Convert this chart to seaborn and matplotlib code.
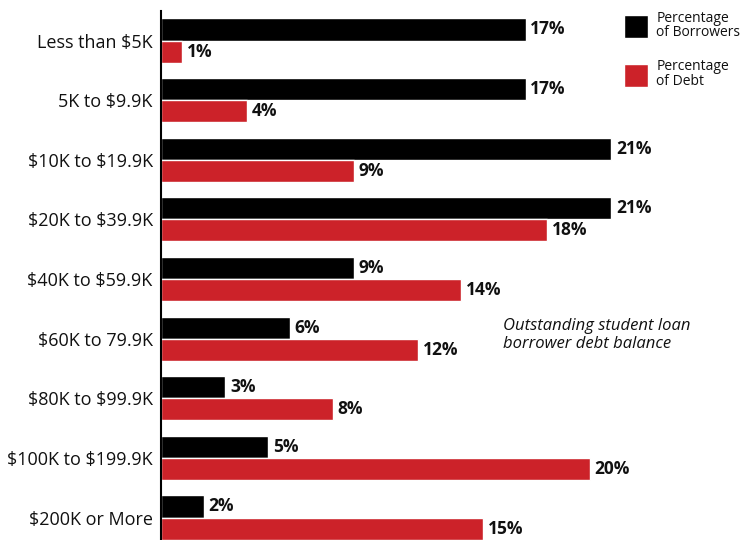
import matplotlib
matplotlib.use("Agg")
import matplotlib.pyplot as plt
import seaborn as sns
import pandas as pd
from matplotlib.patches import Patch

categories = ["Less than $5K", "5K to $9.9K", "$10K to $19.9K", "$20K to $39.9K",
              "$40K to $59.9K", "$60K to 79.9K", "$80K to $99.9K",
              "$100K to $199.9K", "$200K or More"]
borrowers = [17, 17, 21, 21, 9, 6, 3, 5, 2]
debt = [1, 4, 9, 18, 14, 12, 8, 20, 15]
series_names = ["Percentage\nof Borrowers", "Percentage\nof Debt"]
colors = ["#000000", "#CC2229"]

df = pd.DataFrame({
    "category": categories * 2,
    "value": borrowers + debt,
    "series": [series_names[0]] * len(categories) + [series_names[1]] * len(categories),
})

sns.set_theme(style="white")
plt.rcParams["font.family"] = ["Open Sans", "DejaVu Sans"]
plt.rcParams["text.parse_math"] = False

fig = plt.figure(figsize=(7.42, 5.40), dpi=100)
W, H = 742, 540
ax = fig.add_axes([161 / W, 0, (740 - 161) / W, (540 - 11) / H])

sns.barplot(data=df, y="category", x="value", hue="series", orient="h",
            palette=colors, width=0.74, dodge=True, ax=ax, legend=False,
            order=categories, hue_order=series_names, saturation=1)

for c in ax.containers:
    ax.bar_label(c, labels=[f"{v:g}%" for v in c.datavalues], padding=3.5,
                 fontsize=12.5, fontweight="bold", color="#111111")

ax.set_xlim(0, 27)
ax.set_ylim(8.377, -0.495)
ax.set_xlabel("")
ax.set_ylabel("")
ax.set_xticks([])
for s in ["top", "right", "bottom"]:
    ax.spines[s].set_visible(False)
ax.spines["left"].set_color("black")
ax.spines["left"].set_linewidth(1.5)
ax.tick_params(axis="y", direction="in", length=10, width=1.5, color="#777777",
               pad=6, labelsize=13, labelcolor="#111111", left=True)

handles = [Patch(facecolor=colors[0]), Patch(facecolor=colors[1])]
leg = fig.legend(handles, series_names, loc="upper left",
                 bbox_to_anchor=(611 / W, 1 + 2 / H), frameon=False,
                 fontsize=10, handlelength=1.75, handleheight=2.1,
                 handletextpad=0.6, labelspacing=1.35)
for t in leg.get_texts():
    t.set_linespacing(1.0)
    t.set_color("#111111")

fig.text(503 / W, 1 - 318 / H, "Outstanding student loan\nborrower debt balance",
         fontsize=12, style="italic", va="top", ha="left", color="#111111",
         linespacing=1.15)

fig.savefig("out.png", dpi=100)
